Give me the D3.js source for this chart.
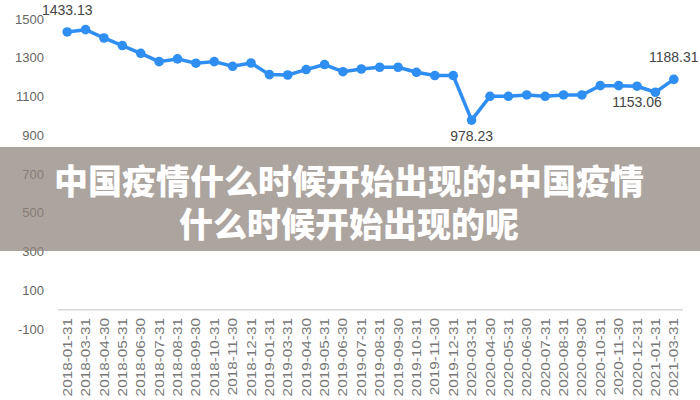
<!DOCTYPE html>
<html>
<head>
<meta charset="utf-8">
<script src="https://cdn.jsdelivr.net/npm/d3@7/dist/d3.min.js"></script>
<style>
  html, body { margin: 0; padding: 0; background: #fff; }
  svg { display: block; }
</style>
</head>
<body>
<svg id="chart" width="700" height="400"></svg>
<script>
const categories = [
  "2018-01-31","2018-03-31","2018-04-30","2018-05-31","2018-06-30","2018-07-31",
  "2018-08-31","2018-09-30","2018-10-31","2018-11-30","2018-12-31","2019-01-31",
  "2019-03-31","2019-04-30","2019-05-31","2019-06-30","2019-07-31","2019-08-31",
  "2019-09-30","2019-10-31","2019-11-30","2019-12-31","2020-03-31","2020-04-30",
  "2020-05-31","2020-06-30","2020-07-31","2020-08-31","2020-09-30","2020-10-31",
  "2020-11-30","2020-12-31","2021-01-31","2021-03-31"
];
const values = [
  1433.13, 1445, 1402, 1363, 1323, 1280,
  1294, 1272, 1280, 1256, 1273, 1213,
  1211, 1239, 1265, 1228, 1242, 1251,
  1251, 1225, 1208, 1208, 978.23, 1101,
  1101, 1108, 1101, 1108, 1108, 1156,
  1156, 1153.06, 1122, 1188.31
];
const yTicks = [-100, 100, 300, 500, 700, 900, 1100, 1300, 1500];
// labelled points: index and placement
const labelIdx = [0, 22, 31, 33];
const labelPos = ["above", "below", "below", "above"];
const titleLines = ["中国疫情什么时候开始出现的:中国疫情", "什么时候开始出现的呢"];

const svg = d3.select("#chart");

const x = d3.scaleBand().domain(categories).range([58, 683]);
const y = d3.scaleLinear().domain([-100, 1500]).range([329, 19]);

// x axis line at zero
svg.append("line")
  .attr("x1", 58).attr("x2", 683)
  .attr("y1", y(0)).attr("y2", y(0))
  .attr("stroke", "#d9d9d9").attr("stroke-width", 1.5);

// y tick labels
svg.append("g").selectAll("text").data(yTicks).join("text")
  .attr("x", 44).attr("y", d => y(d))
  .attr("text-anchor", "end").attr("dominant-baseline", "central")
  .attr("font-family", "Arial, 'Liberation Sans', sans-serif")
  .attr("font-size", 13).attr("fill", "#666")
  .text(d => d);

// x tick labels rotated
svg.append("g").selectAll("text").data(categories).join("text")
  .attr("transform", d => `translate(${x(d) + x.bandwidth() / 2},318) rotate(-90) scale(1.18,1)`)
  .attr("text-anchor", "end").attr("dominant-baseline", "central")
  .attr("font-family", "Arial, 'Liberation Sans', sans-serif")
  .attr("font-size", 13).attr("fill", "#777")
  .text(d => d);

const cx = (d, i) => x(categories[i]) + x.bandwidth() / 2;

// line
const line = d3.line()
  .x((d, i) => cx(d, i))
  .y(d => y(d));
svg.append("path").datum(values)
  .attr("d", line)
  .attr("fill", "none")
  .attr("stroke", "#2e8ef2")
  .attr("stroke-width", 3.5)
  .attr("stroke-linejoin", "round");

// points
svg.append("g").selectAll("circle").data(values).join("circle")
  .attr("cx", (d, i) => cx(d, i))
  .attr("cy", d => y(d))
  .attr("r", 4.8)
  .attr("fill", "#2e8ef2");

// value labels
svg.append("g").selectAll("text").data(labelIdx).join("text")
  .attr("x", (k) => cx(values[k], k))
  .attr("y", (k, j) => y(values[k]) + (labelPos[j] === "above" ? -22 : 16))
  .attr("text-anchor", "middle").attr("dominant-baseline", "central")
  .attr("font-family", "Arial, 'Liberation Sans', sans-serif")
  .attr("font-size", 14).attr("fill", "#444")
  .text(k => values[k].toFixed(2));

// overlay banner
svg.append("rect")
  .attr("x", 0).attr("y", 147).attr("width", 700).attr("height", 104)
  .attr("fill", "rgb(144,134,126)").attr("fill-opacity", 0.75);

svg.append("g").selectAll("text").data(titleLines).join("text")
  .attr("x", 349).attr("y", (d, i) => 179 + i * 43)
  .attr("text-anchor", "middle").attr("dominant-baseline", "central")
  .attr("font-family", "'Noto Sans CJK SC', sans-serif")
  .attr("font-weight", 900).attr("font-size", 34).attr("fill", "#fff")
  .text(d => d);
</script>
</body>
</html>
